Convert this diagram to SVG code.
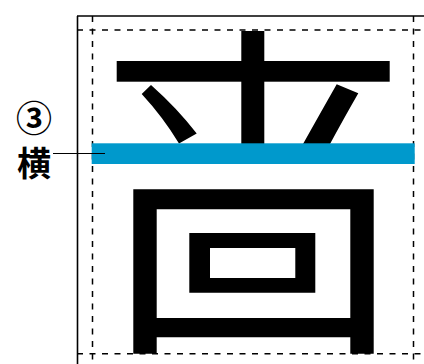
<svg xmlns="http://www.w3.org/2000/svg" width="424" height="364" viewBox="0 0 424 364">
  <style>
    .frame { stroke: #000; stroke-width: 1.6; fill: none; }
    .guide { stroke: #000; stroke-width: 1.5; fill: none; stroke-dasharray: 6 6.5; }
    .ink { fill: #000; }
    .hl { fill: #0099CC; }
    .lbl { font-family: "Noto Sans CJK JP", "Noto Sans CJK SC", sans-serif; font-weight: bold; font-size: 34px; fill: #000; text-anchor: middle; }
    .conn { stroke: #000; stroke-width: 1; fill: none; }
  </style>
  <rect width="424" height="364" fill="#fff"/>
  <g id="frame">
    <line class="frame" x1="77.5" y1="16" x2="77.5" y2="364"/>
    <line class="frame" x1="77" y1="16" x2="424" y2="16"/>
    <line class="guide" x1="77" y1="30" x2="424" y2="30"/>
    <line class="guide" x1="77" y1="353.8" x2="424" y2="353.8"/>
    <line class="guide" x1="92.5" y1="16" x2="92.5" y2="364"/>
    <line class="guide" x1="413.5" y1="16" x2="413.5" y2="364"/>
  </g>
  <g id="glyph">
    <rect class="ink" x="116.7" y="61" width="273" height="20.7"/>
    <rect class="ink" x="241.3" y="31" width="23" height="113"/>
    <path class="ink" d="M141.7,94 L151,85 Q177,108 196.7,133.5 L179,143.5 Q163,117 141.7,94 Z"/>
    <path class="ink" d="M336.7,84.3 L358.3,93.3 Q343,120 330,144 L303,144 Q321,112 336.7,84.3 Z"/>
    <path class="ink" fill-rule="evenodd" d="M133.3,189.3 H373.7 V353.8 H350.3 V337.3 H156.7 V353.8 H133.3 Z M156.7,209.3 V318 H350.3 V209.3 Z"/>
    <path class="ink" fill-rule="evenodd" d="M189.3,233 H315.3 V292.7 H189.3 Z M210,248 V278 H295.3 V248 Z"/>
  </g>
  <g id="highlight">
    <rect class="hl" x="91.7" y="143.3" width="323" height="20.7"/>
  </g>
  <g id="connectors">
    <line class="conn" x1="53" y1="153.5" x2="105" y2="153.5"/>
  </g>
  <g id="label">
    <text class="lbl"><tspan x="34" y="132" font-size="36">③</tspan><tspan x="34" y="176">横</tspan></text>
  </g>
</svg>
